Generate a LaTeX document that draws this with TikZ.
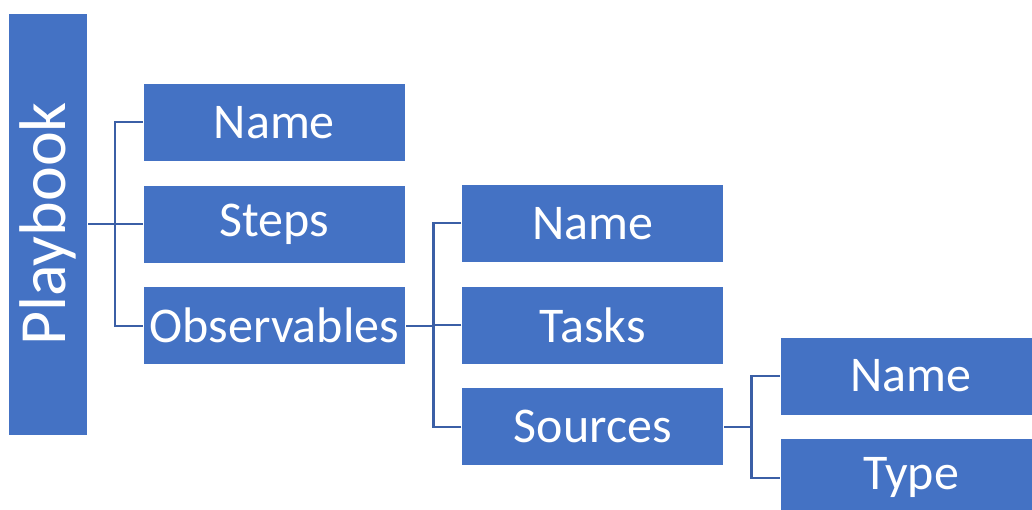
\documentclass[tikz,border=0pt]{standalone}
\usepackage{fontspec}
\setmainfont{Carlito}
\usetikzlibrary{positioning}
\definecolor{boxblue}{HTML}{4472C4}
\definecolor{linkblue}{HTML}{3B5FA6}

\begin{document}
\begin{tikzpicture}[x=0.75pt, y=-0.75pt, node distance=17.25pt,
        field/.style={draw=white, line width=0.6pt, fill=boxblue, text=white, inner sep=0pt,
            minimum width=196.5pt, minimum height=58.5pt, font=\fontsize{37.5}{37.5}\selectfont},
        link/.style={linkblue, line width=1.8pt}]
        \useasboundingbox (0,0) rectangle (1032,510);
        \clip (0,0) rectangle (1032,510);
        % root
        \node[field, rotate=90, minimum width=316.5pt, minimum height=59.25pt,
            font=\fontsize{49.5}{49.5}\selectfont] (book) at (48,224) {Playbook};
        % first level
        \node[field] (steps) at (274.3,224) {Steps};
        \node[field, above=of steps] (name) {Name};
        \node[field, below=of steps] (obs) {Observables};
        % second level
        \node[field] (tasks) at (592.8,325) {Tasks};
        \node[field, above=of tasks] (obsname) {Name};
        \node[field, below=of tasks] (src) {Sources};
        % third level
        \node[field] (srcname) at (911,376) {Name};
        \node[field, below=of srcname] (type) {Type};
        % connectors
        \foreach \child in {name, steps, obs}
            \draw[link] (\child.west) -- ++(-28,0) |- (book.south);
        \foreach \child in {obsname, tasks, src}
            \draw[link] (\child.west) -- ++(-28,0) |- (obs.east);
        \foreach \child in {srcname, type}
            \draw[link] (\child.west) -- ++(-28,0) |- (src.east);
\end{tikzpicture}
\end{document}
